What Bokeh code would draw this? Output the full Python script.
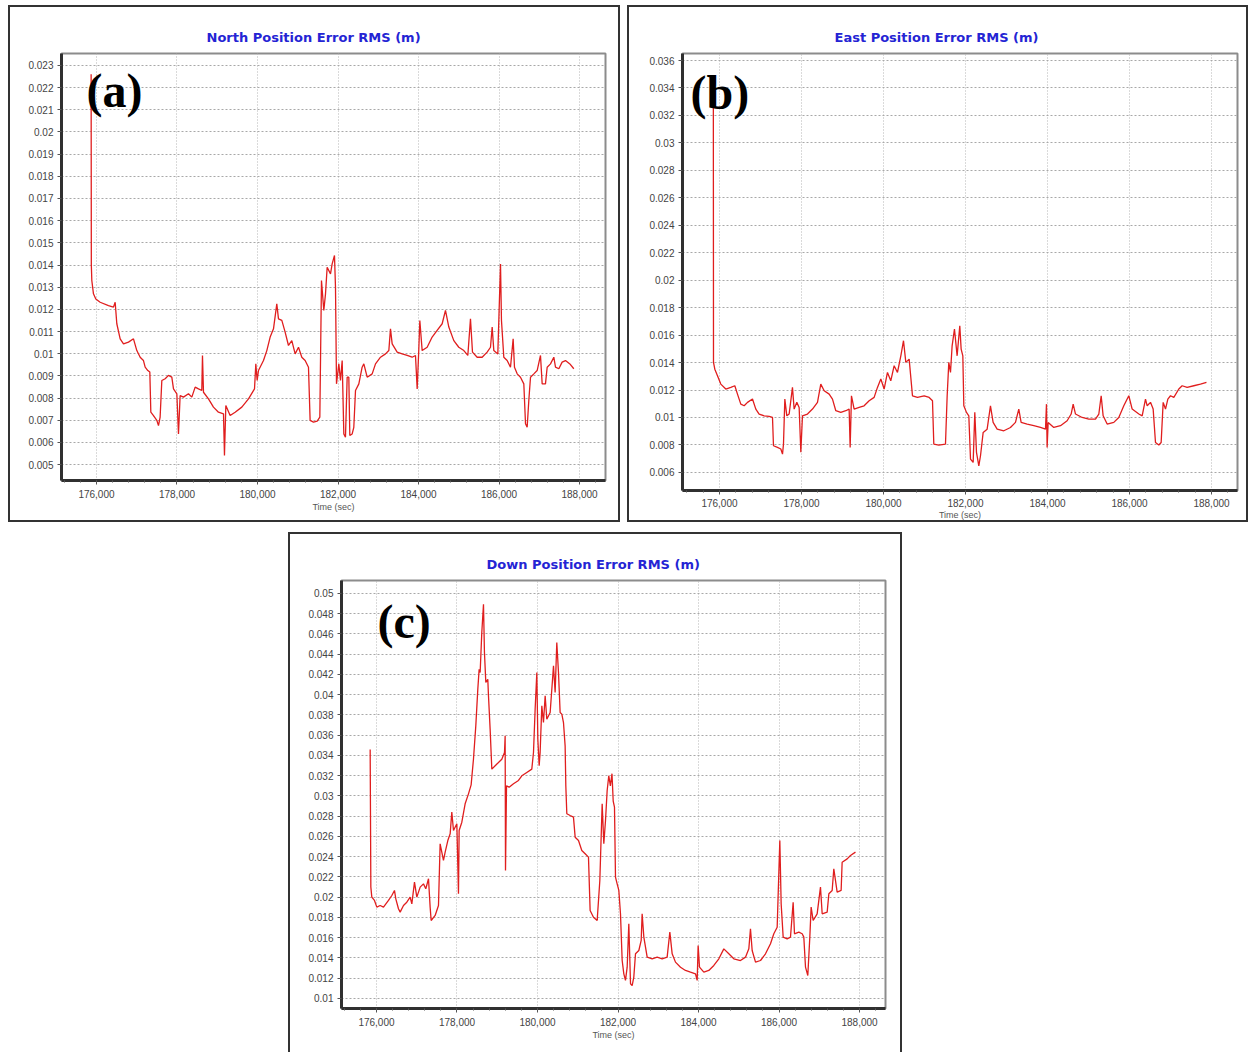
from bokeh.plotting import figure
from bokeh.layouts import column, row
from bokeh.models import (Range1d, SingleIntervalTicker, NumeralTickFormatter,
                          CustomJSTickFormatter, Label, Spacer)
from bokeh.embed import file_html
from bokeh.resources import INLINE

# ---------------- data ----------------
north_t = [175867, 175872, 175884, 175925, 175983, 176091, 176298, 176422, 176464, 176505,
           176588, 176671, 176795, 176919, 177002, 177085, 177167, 177209, 177275, 177325,
           177350, 177416, 177499, 177540, 177581, 177623, 177706, 177788, 177871, 177913,
           177996, 178037, 178078, 178161, 178285, 178368, 178451, 178534, 178616, 178633,
           178658, 178782, 178906, 179030, 179155, 179179, 179213, 179320, 179444, 179610,
           179776, 179925, 179958, 179991, 180024, 180148, 180231, 180314, 180397, 180479,
           180521, 180604, 180686, 180769, 180852, 180935, 181018, 181100, 181183, 181266,
           181307, 181390, 181482, 181548, 181589, 181647, 181689, 181730, 181813, 181854,
           181912, 181937, 181962, 182020, 182061, 182103, 182144, 182185, 182227, 182268,
           182293, 182351, 182392, 182434, 182517, 182599, 182641, 182724, 182848, 182931,
           183055, 183179, 183262, 183303, 183345, 183469, 183593, 183717, 183841, 183924,
           183966, 184007, 184032, 184090, 184214, 184338, 184462, 184587, 184669, 184752,
           184876, 185000, 185125, 185224, 185290, 185340, 185456, 185580, 185704, 185787,
           185829, 185870, 185969, 186036, 186060, 186118, 186201, 186284, 186350, 186383,
           186450, 186532, 186615, 186657, 186698, 186739, 186781, 186864, 186946, 187029,
           187071, 187153, 187195, 187278, 187360, 187402, 187485, 187567, 187650, 187774,
           187857]
north_v = [0.02260, 0.01400, 0.01330, 0.01270, 0.01247, 0.01232, 0.01217, 0.01210, 0.01232, 0.01135,
           0.01067, 0.01044, 0.01052, 0.01067, 0.01014, 0.00984, 0.00969, 0.00939, 0.00924, 0.00917,
           0.00736, 0.00721, 0.00699, 0.00676, 0.00714, 0.00879, 0.00887, 0.00902, 0.00894, 0.00841,
           0.00819, 0.00638, 0.00811, 0.00804, 0.00819, 0.00804, 0.00849, 0.00841, 0.00834, 0.00992,
           0.00826, 0.00796, 0.00759, 0.00736, 0.00729, 0.00541, 0.00766, 0.00721, 0.00736, 0.00759,
           0.00796, 0.00841, 0.00954, 0.00879, 0.00924, 0.00969, 0.01014, 0.01075, 0.01112, 0.01225,
           0.01157, 0.01150, 0.01097, 0.01037, 0.01059, 0.00999, 0.01029, 0.00984, 0.00969, 0.00939,
           0.00699, 0.00691, 0.00696, 0.00714, 0.01330, 0.01195, 0.01270, 0.01390, 0.01360, 0.01405,
           0.01443, 0.01300, 0.00864, 0.00954, 0.00879, 0.00969, 0.00638, 0.00623, 0.00894, 0.00894,
           0.00631, 0.00638, 0.00668, 0.00834, 0.00864, 0.00939, 0.00954, 0.00894, 0.00909, 0.00954,
           0.00984, 0.00999, 0.01014, 0.01112, 0.01044, 0.01007, 0.00999, 0.00992, 0.00984, 0.00992,
           0.00841, 0.01022, 0.01150, 0.01014, 0.01029, 0.01075, 0.01105, 0.01135, 0.01195, 0.01120,
           0.01059, 0.01029, 0.01014, 0.00992, 0.01157, 0.01007, 0.00984, 0.00984, 0.01007, 0.01029,
           0.01120, 0.01014, 0.00999, 0.01405, 0.01150, 0.00984, 0.00969, 0.00939, 0.01067, 0.00939,
           0.00909, 0.00894, 0.00864, 0.00684, 0.00668, 0.00789, 0.00894, 0.00909, 0.00924, 0.00992,
           0.00864, 0.00864, 0.00939, 0.00954, 0.00984, 0.00939, 0.00932, 0.00962, 0.00969, 0.00951,
           0.00932]

east_t = [175850, 175854, 175886, 175951, 176032, 176154, 176276, 176374, 176439, 176520,
          176602, 176683, 176805, 176886, 176967, 177089, 177211, 177293, 177317, 177414,
          177496, 177537, 177561, 177594, 177642, 177699, 177780, 177821, 177886, 177943,
          177984, 178024, 178146, 178268, 178390, 178471, 178553, 178675, 178756, 178837,
          178959, 179081, 179162, 179187, 179219, 179284, 179406, 179528, 179650, 179772,
          179853, 179935, 180016, 180097, 180178, 180260, 180341, 180423, 180488, 180545,
          180626, 180707, 180829, 180992, 181114, 181195, 181227, 181349, 181512, 181553,
          181593, 181634, 181674, 181731, 181796, 181861, 181894, 181935, 181959, 182024,
          182081, 182122, 182187, 182227, 182268, 182325, 182366, 182431, 182528, 182609,
          182674, 182772, 182935, 183097, 183219, 183300, 183357, 183504, 183666, 183829,
          183951, 183975, 183991, 184016, 184154, 184317, 184479, 184577, 184626, 184683,
          184845, 185008, 185170, 185252, 185309, 185357, 185455, 185617, 185739, 185861,
          185983, 186065, 186228, 186309, 186390, 186431, 186512, 186577, 186634, 186715,
          186772, 186821, 186878, 186935, 187000, 187081, 187203, 187284, 187406, 187569,
          187731, 187877]
east_v = [0.03490, 0.01401, 0.01352, 0.01304, 0.01243, 0.01207, 0.01219, 0.01231, 0.01170, 0.01097,
          0.01085, 0.01110, 0.01134, 0.01061, 0.01025, 0.01012, 0.01008, 0.01000, 0.00794, 0.00782,
          0.00770, 0.00733, 0.00806, 0.01134, 0.01012, 0.01025, 0.01219, 0.01061, 0.01110, 0.01073,
          0.00746, 0.01012, 0.01025, 0.01061, 0.01110, 0.01243, 0.01195, 0.01170, 0.01134, 0.01049,
          0.01037, 0.01049, 0.01061, 0.00782, 0.01158, 0.01061, 0.01073, 0.01085, 0.01122, 0.01146,
          0.01219, 0.01280, 0.01207, 0.01328, 0.01267, 0.01377, 0.01328, 0.01449, 0.01559, 0.01401,
          0.01425, 0.01158, 0.01146, 0.01158, 0.01146, 0.01122, 0.00806, 0.00799, 0.00806, 0.01158,
          0.01401, 0.01328, 0.01522, 0.01644, 0.01449, 0.01668, 0.01498, 0.01449, 0.01085, 0.01037,
          0.01012, 0.00697, 0.00673, 0.01037, 0.00746, 0.00648, 0.00721, 0.00891, 0.00915, 0.01085,
          0.00964, 0.00915, 0.00903, 0.00927, 0.00964, 0.01061, 0.00964, 0.00952, 0.00940, 0.00927,
          0.00915, 0.01097, 0.00782, 0.00964, 0.00927, 0.00940, 0.00976, 0.01025, 0.01097, 0.01025,
          0.01000, 0.00988, 0.00988, 0.01025, 0.01158, 0.01012, 0.00952, 0.00964, 0.01000, 0.01085,
          0.01158, 0.01061, 0.01025, 0.01012, 0.01134, 0.01085, 0.01110, 0.01061, 0.00818, 0.00799,
          0.00818, 0.01110, 0.01061, 0.01134, 0.01158, 0.01146, 0.01207, 0.01231, 0.01219, 0.01231,
          0.01243, 0.01255]

down_t = [175843, 175860, 175884, 175950, 176008, 176091, 176174, 176298, 176381, 176447,
          176480, 176546, 176588, 176671, 176753, 176836, 176878, 176944, 177002, 177085,
          177167, 177225, 177292, 177333, 177358, 177457, 177540, 177581, 177640, 177664,
          177706, 177772, 177830, 177871, 177913, 177996, 178037, 178053, 178120, 178202,
          178285, 178351, 178409, 178467, 178517, 178550, 178575, 178616, 178658, 178682,
          178716, 178765, 178782, 178823, 178865, 178948, 179030, 179113, 179180, 179196,
          179205, 179230, 179295, 179403, 179527, 179610, 179734, 179858, 179900, 179941,
          179983, 180008, 180041, 180065, 180107, 180148, 180190, 180231, 180314, 180397,
          180438, 180479, 180521, 180562, 180604, 180645, 180686, 180703, 180728, 180811,
          180893, 180935, 181018, 181100, 181183, 181266, 181307, 181390, 181482, 181548,
          181606, 181647, 181689, 181730, 181770, 181810, 181850, 181880, 181912, 181937,
          181978, 182020, 182061, 182103, 182144, 182185, 182227, 182268, 182310, 182351,
          182392, 182434, 182517, 182575, 182599, 182641, 182724, 182848, 182972, 183096,
          183220, 183287, 183345, 183427, 183552, 183676, 183800, 183924, 183966, 183990,
          184024, 184131, 184255, 184380, 184504, 184628, 184752, 184876, 185042, 185166,
          185249, 185290, 185332, 185415, 185539, 185663, 185787, 185870, 185953, 186019,
          186052, 186102, 186201, 186284, 186350, 186383, 186491, 186574, 186615, 186657,
          186714, 186764, 186797, 186847, 186946, 187029, 187071, 187195, 187237, 187319,
          187360, 187443, 187542, 187567, 187692, 187774, 187898]
down_v = [0.03460, 0.02100, 0.02001, 0.01968, 0.01902, 0.01918, 0.01902, 0.01968, 0.02017, 0.02067,
          0.01984, 0.01886, 0.01853, 0.01918, 0.01951, 0.02001, 0.01935, 0.02149, 0.02001, 0.02100,
          0.02132, 0.02083, 0.02182, 0.01902, 0.01770, 0.01820, 0.01918, 0.02528, 0.02412, 0.02363,
          0.02445, 0.02560, 0.02626, 0.02840, 0.02659, 0.02725, 0.02034, 0.02659, 0.02741, 0.02923,
          0.03021, 0.03110, 0.03363, 0.03692, 0.04055, 0.04252, 0.04219, 0.04614, 0.04894, 0.04417,
          0.04121, 0.04153, 0.03989, 0.03660, 0.03265, 0.03298, 0.03330, 0.03363, 0.03429, 0.03594,
          0.02264, 0.03100, 0.03087, 0.03120, 0.03153, 0.03199, 0.03232, 0.03265, 0.03429, 0.03857,
          0.04219, 0.03561, 0.03298, 0.03429, 0.03890, 0.03725, 0.03989, 0.03758, 0.03824, 0.04285,
          0.04022, 0.04516, 0.04219, 0.03824, 0.03808, 0.03725, 0.03495, 0.03100, 0.02824, 0.02807,
          0.02791, 0.02593, 0.02560, 0.02462, 0.02429, 0.02396, 0.01869, 0.01803, 0.01770, 0.02165,
          0.02923, 0.02528, 0.02758, 0.03054, 0.03200, 0.03100, 0.03220, 0.02950, 0.02890, 0.02198,
          0.02132, 0.02067, 0.01836, 0.01375, 0.01243, 0.01178, 0.01309, 0.01737, 0.01145, 0.01128,
          0.01211, 0.01441, 0.01474, 0.01573, 0.01836, 0.01606, 0.01408, 0.01392, 0.01408, 0.01392,
          0.01408, 0.01655, 0.01441, 0.01359, 0.01309, 0.01277, 0.01260, 0.01244, 0.01178, 0.01523,
          0.01309, 0.01260, 0.01277, 0.01326, 0.01392, 0.01490, 0.01441, 0.01392, 0.01375, 0.01408,
          0.01490, 0.01688, 0.01474, 0.01359, 0.01375, 0.01441, 0.01540, 0.01639, 0.01704, 0.02560,
          0.01935, 0.01606, 0.01589, 0.01606, 0.01951, 0.01639, 0.01655, 0.01639, 0.01606, 0.01309,
          0.01227, 0.01606, 0.01902, 0.01770, 0.01836, 0.02100, 0.01836, 0.01853, 0.02034, 0.02067,
          0.02281, 0.02050, 0.02067, 0.02346, 0.02379, 0.02412, 0.02445]

titles = ["North Position Error RMS (m)", "East Position Error RMS (m)", "Down Position Error RMS (m)"]
tags = ["(a)", "(b)", "(c)"]
x_label = "Time (sec)"

RED = "#e01e1e"
BLUE = "#2424d4"


def make_panel(title, t, v, tag, tag_xy, xr, yr, yint, fw, fh, bl, br, bt, bb, toff, frame_css,
               xstand=5, lstand=1):
    p = figure(frame_width=fw, frame_height=fh,
               x_range=Range1d(*xr), y_range=Range1d(*yr),
               output_backend="svg", toolbar_location=None,
               min_border_left=bl, min_border_right=br,
               min_border_top=bt, min_border_bottom=bb)
    p.border_fill_color = None
    p.background_fill_color = "white"
    p.styles = {"box-shadow": frame_css, "background-color": "white"}
    p.outline_line_color = "#8c8c8c"
    p.outline_line_width = 2

    p.title.text = title
    p.title.align = "left"
    p.title.offset = toff
    p.title.text_font = "DejaVu Sans"
    p.title.text_font_style = "bold"
    p.title.text_font_size = "13px"
    p.title.text_color = BLUE
    p.title.standoff = 17

    p.xaxis.ticker = SingleIntervalTicker(interval=2000, num_minor_ticks=5)
    p.yaxis.ticker = SingleIntervalTicker(interval=yint, num_minor_ticks=0)
    p.xaxis.formatter = NumeralTickFormatter(format="0,0")
    p.yaxis.formatter = CustomJSTickFormatter(code="return String(parseFloat(tick.toFixed(4)));")
    for ax in p.axis:
        ax.major_label_text_font = "Liberation Sans"
        ax.major_label_text_font_size = "10px"
        ax.major_label_text_color = "#444444"
        ax.axis_line_color = "#303030"
        ax.axis_line_width = 3
        ax.major_tick_line_color = "#555555"
        ax.minor_tick_line_color = "#555555"
        ax.major_tick_out = 4
        ax.major_tick_in = 0
        ax.minor_tick_out = 2
        ax.minor_tick_in = 0
    p.xaxis.major_label_standoff = xstand
    p.yaxis.major_label_standoff = 4
    p.xaxis.axis_label = x_label
    p.xaxis.axis_label_text_font = "Liberation Sans"
    p.xaxis.axis_label_text_font_size = "9px"
    p.xaxis.axis_label_text_font_style = "normal"
    p.xaxis.axis_label_text_color = "#555555"
    p.xaxis.axis_label_standoff = lstand

    p.ygrid.grid_line_color = "#a8a8a8"
    p.ygrid.grid_line_dash = "2 2"
    p.xgrid.grid_line_color = "#b4b4b4"
    p.xgrid.grid_line_dash = "1 2"

    p.line(t, v, line_color=RED, line_width=1.3)

    p.add_layout(Label(x=tag_xy[0], y=tag_xy[1], text=tag, text_font="Liberation Serif",
                       text_font_style="bold", text_font_size="48px", text_color="black",
                       text_align="left", text_baseline="alphabetic"))
    return p


FULL = "inset 2px 0 0 #333, inset -2px 0 0 #333, inset 0 2px 0 #333, inset 0 -2px 0 #333"
NOBOT = "inset 2px 0 0 #333, inset -2px 0 0 #333, inset 0 2px 0 #333"

pa = make_panel(titles[0], north_t, north_v, tags[0], (175752, 0.02185),
                (175131, 188644), (0.00428, 0.02354), 0.001,
                544, 427, 53, 15, 48, 42, 145, FULL)
pb = make_panel(titles[1], east_t, east_v, tags[1], (175293, 0.03365),
                (175098, 188634), (0.00468, 0.03651), 0.002,
                555, 437, 55, 11, 46, 34, 152, FULL, xstand=4, lstand=0)
pc = make_panel(titles[2], down_t, down_v, tags[2], (176025, 0.04720),
                (175131, 188644), (0.00901, 0.05128), 0.002,
                544, 428, 53, 17, 48, 44, 145, NOBOT)

layout = column(
    Spacer(width=10, height=5),
    row(Spacer(width=8, height=10), pa, Spacer(width=7, height=10), pb),
    Spacer(width=10, height=10),
    row(Spacer(width=288, height=10), pc),
)

open("out.html", "w").write(file_html(layout, INLINE))
